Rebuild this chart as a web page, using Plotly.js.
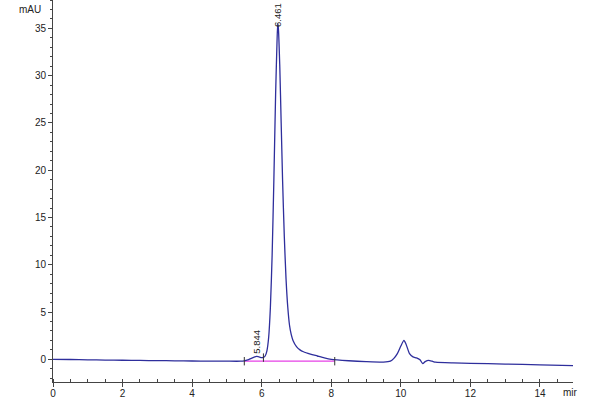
<!DOCTYPE html>
<html>
<head>
<meta charset="utf-8">
<script src="https://cdn.plot.ly/plotly-3.0.1.min.js"></script>
<style>
  html, body { margin: 0; padding: 0; background: #fff; }
  #chart { width: 600px; height: 400px; }
</style>
</head>
<body>
<div id="chart"></div>
<script>
// chromatogram trace (min, mAU)
const timeMin = [
    0, 0.5, 1, 1.5, 2, 2.5, 3, 3.5, 4, 4.5, 5, 5.4, 5.5, 5.6, 5.7, 5.8, 5.85, 5.9, 6.0, 6.05,
    6.1, 6.15, 6.2, 6.25, 6.3, 6.35, 6.4, 6.44, 6.461, 6.48, 6.52, 6.56, 6.6, 6.65, 6.7, 6.75,
    6.8, 6.85, 6.9, 7.0, 7.1, 7.2, 7.4, 7.6, 7.8, 8.0, 8.5, 9.0, 9.5, 9.7, 9.8, 9.9, 10.0,
    10.09, 10.15, 10.25, 10.35, 10.45, 10.55, 10.63, 10.7, 10.8, 10.9, 11.0, 11.5, 12, 13, 14, 15
];
const signal = [
    0.0, -0.02, -0.05, -0.08, -0.1, -0.12, -0.14, -0.16, -0.18, -0.19, -0.2, -0.2, -0.16, -0.06, 0.1, 0.25, 0.3, 0.28, 0.18, 0.2,
    0.35, 0.9, 2.3, 5.5, 11.0, 19.0, 28.0, 33.5, 35.5, 35.0, 31.0, 25.0, 19.0, 13.0, 8.5, 5.5,
    3.6, 2.6, 2.0, 1.35, 1.0, 0.8, 0.55, 0.35, 0.15, 0.0, -0.15, -0.25, -0.3, -0.2, 0.1, 0.6, 1.4,
    2.0, 1.6, 0.6, 0.25, 0.15, -0.05, -0.45, -0.25, -0.12, -0.2, -0.3, -0.38, -0.42, -0.5, -0.58, -0.67
];

// integration baseline and peak boundary marks
const baseTime = [5.5, 8.1];
const baseValue = [-0.2, -0.2];
const markTime = [5.5, 6.05, 8.1];
const markValue = [-0.2, 0.18, -0.2];

// labelled peaks
const peakTime = [5.844, 6.461];
const peakValue = [0.4, 34.9];
const peakLabel = ["5.844", "6.461"];

const traces = [
    {
        x: baseTime, y: baseValue,
        mode: "lines", type: "scatter",
        line: { color: "#e640e6", width: 1.2 },
        hoverinfo: "skip",
    },
    {
        x: timeMin, y: signal,
        mode: "lines", type: "scatter",
        line: { color: "#2e2e9c", width: 1.3, shape: "spline", smoothing: 0.6 },
    },
    {
        x: markTime, y: markValue,
        mode: "markers", type: "scatter",
        marker: { symbol: "line-ns-open", size: 6, color: "#333", line: { width: 1, color: "#333" } },
        hoverinfo: "skip",
    },
];

const tickFont = { family: "Liberation Sans, Arial, sans-serif", size: 10, color: "#222" };

const layout = {
    width: 600,
    height: 400,
    paper_bgcolor: "#fff",
    plot_bgcolor: "#fff",
    showlegend: false,
    margin: { l: 53, r: 27, t: 0, b: 18 },
    font: tickFont,
    xaxis: {
        range: [0, 14.95],
        showgrid: false, zeroline: false,
        showline: true, linecolor: "#444", linewidth: 1,
        tickmode: "linear", tick0: 0, dtick: 2,
        ticks: "outside", ticklen: 4, tickcolor: "#444",
        ticklabelstandoff: -2,
        minor: { dtick: 0.5, ticks: "inside", ticklen: 3, tickcolor: "#444" },
        tickfont: tickFont,
    },
    yaxis: {
        range: [-2.4, 38.0],
        showgrid: false, zeroline: false,
        showline: true, linecolor: "#444", linewidth: 1,
        tickmode: "linear", tick0: 0, dtick: 5,
        ticks: "outside", ticklen: 4, tickcolor: "#444",
        minor: { dtick: 1, ticks: "outside", ticklen: 2, tickcolor: "#444" },
        tickfont: tickFont,
    },
    annotations: [
        ...peakTime.map((t, i) => ({
            x: t, y: peakValue[i], xref: "x", yref: "y",
            text: peakLabel[i], textangle: -90, showarrow: false,
            xanchor: "center", yanchor: "bottom",
            font: { family: "Liberation Sans, Arial, sans-serif", size: 9.5, color: "#222" },
        })),
        {
            x: 0, y: 1, xref: "paper", yref: "paper",
            xanchor: "right", yanchor: "top", xshift: -10, yshift: -2,
            text: "mAU", showarrow: false, font: tickFont,
        },
        {
            x: 1, y: 0, xref: "paper", yref: "paper",
            xanchor: "left", yanchor: "top", xshift: -12, yshift: -3,
            text: "mir", showarrow: false, font: tickFont,
        },
    ],
};

Plotly.newPlot("chart", traces, layout, { displayModeBar: false, staticPlot: true });
</script>
</body>
</html>
